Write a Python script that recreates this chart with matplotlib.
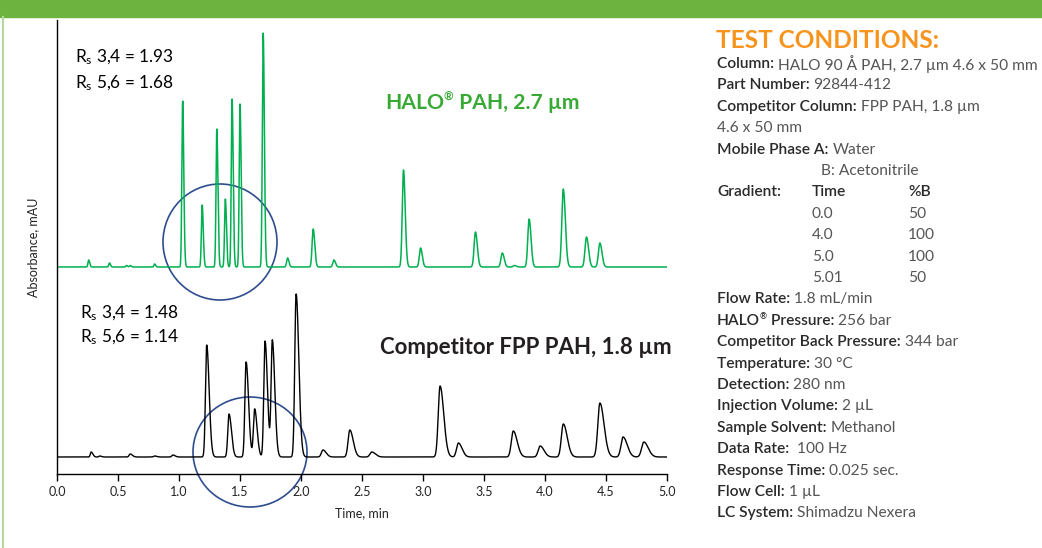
import numpy as np
import matplotlib
matplotlib.use("Agg")
import matplotlib.pyplot as plt
from matplotlib.patches import Ellipse, Rectangle

plt.rcParams['font.family'] = ['Lato', 'DejaVu Sans']
plt.rcParams['mathtext.fontset'] = 'custom'
plt.rcParams['mathtext.rm'] = 'Lato'
plt.rcParams['mathtext.it'] = 'Lato'

# ---------------- data (peak tables) ----------------
halo_times   = [0.26, 0.43, 0.57, 0.60, 0.80, 1.03, 1.19, 1.31, 1.38, 1.435, 1.50, 1.69, 1.89, 2.10, 2.27,
                2.84, 2.98, 3.43, 3.65, 3.75, 3.87, 4.15, 4.34, 4.45]
halo_heights = [7, 4, 1.5, 1.5, 3, 166, 62, 138, 68, 168, 163, 234, 9, 38, 7,
                97, 19, 35, 14, 1.5, 48, 78, 30, 24]
halo_sigmas  = [0.006, 0.006, 0.006, 0.006, 0.006, 0.0065, 0.0065, 0.0065, 0.0065, 0.0065, 0.0065, 0.007, 0.008, 0.009, 0.009,
                0.010, 0.010, 0.011, 0.011, 0.011, 0.011, 0.012, 0.012, 0.012]

comp_times   = [0.28, 0.35, 0.60, 0.80, 0.95, 1.227, 1.41, 1.55, 1.62, 1.705, 1.765, 1.96, 2.18, 2.40, 2.58,
                3.14, 3.29, 3.74, 3.96, 4.15, 4.45, 4.64, 4.81]
comp_heights = [5, 1, 3, 1, 2, 112, 43, 95, 48, 116, 116, 163, 7, 27, 5,
                71, 14, 26, 11, 33, 54, 20, 15]
comp_sigmas  = [0.007, 0.007, 0.009, 0.009, 0.009, 0.010, 0.010, 0.010, 0.010, 0.010, 0.010, 0.011, 0.013, 0.014, 0.015,
                0.015, 0.015, 0.016, 0.016, 0.016, 0.017, 0.017, 0.018]

x_ticks = [0.0, 0.5, 1.0, 1.5, 2.0, 2.5, 3.0, 3.5, 4.0, 4.5, 5.0]

cond_lines = [
    ("Column: ", "HALO 90 Å PAH, 2.7 µm 4.6 x 50 mm"),
    ("Part Number: ", "92844-412"),
    ("Competitor Column: ", "FPP PAH, 1.8 µm"),
    ("", "4.6 x 50 mm"),
    ("Mobile Phase A: ", "Water"),
]
gradient_time = ["0.0", "4.0", "5.0", "5.01"]
gradient_B    = ["50", "100", "100", "50"]
cond_lines2 = [
    ("Flow Rate: ", "1.8 mL/min"),
    ("HALO\u00ae Pressure: ", "256 bar"),
    ("Competitor Back Pressure: ", "344 bar"),
    ("Temperature: ", "30 °C"),
    ("Detection: ", "280 nm"),
    ("Injection Volume: ", "2 µL"),
    ("Sample Solvent: ", "Methanol"),
    ("Data Rate: ", " 100 Hz"),
    ("Response Time: ", "0.025 sec."),
    ("Flow Cell: ", "1 µL"),
    ("LC System: ", "Shimadzu Nexera"),
]

# ---------------- figure ----------------
W, H = 1042, 548
fig = plt.figure(figsize=(W / 100, H / 100), dpi=100)
renderer = fig.canvas.get_renderer()

def fx(px):
    return px / W

def fy(py):
    return 1 - py / H

# top green bar and left border
fig.patches.append(Rectangle((0, fy(17)), 1, 17 / H, transform=fig.transFigure,
                             color='#6db33f', zorder=0))
fig.add_artist(plt.Line2D([fx(3), fx(3)], [0, fy(17)], transform=fig.transFigure,
                          color='#b5d99c', lw=1.5))

ax_left, ax_right, ax_top, ax_bot = 57, 667, 20, 474
ax = fig.add_axes([fx(ax_left), fy(ax_bot), (ax_right - ax_left) / W, (ax_bot - ax_top) / H])
ax.set_xlim(0, 5.0)
ax.set_ylim(0, ax_bot - ax_top)


def trace(times, heights, sigmas, t, tail):
    y = np.zeros_like(t)
    for t0, h, s in zip(times, heights, sigmas):
        d = t - t0
        sig = np.where(d < 0, s, s * tail)
        y += h * np.exp(-0.5 * (d / sig) ** 2)
    return y

t = np.linspace(0, 5.0, 6000)
green_off = ax_bot - 267
black_off = ax_bot - 457
yg = trace(halo_times, halo_heights, halo_sigmas, t, 1.4) + green_off
yb = trace(comp_times, comp_heights, comp_sigmas, t, 2.0) + black_off
ax.plot(t, yg, color='#00b050', lw=1.1)
ax.plot(t, yb, color='black', lw=1.0)

# circles
ppm = (ax_right - ax_left) / 5.0
ax.add_patch(Ellipse(((220 - ax_left) / ppm, ax_bot - 242), 114 / ppm, 116,
                     fill=False, ec='#2e4d8e', lw=1.2, clip_on=False))
ax.add_patch(Ellipse(((250 - ax_left) / ppm, ax_bot - 452), 114 / ppm, 110,
                     fill=False, ec='#2e4d8e', lw=1.2, clip_on=False))

for s in ['top', 'right']:
    ax.spines[s].set_visible(False)
ax.spines['left'].set_linewidth(1.0)
ax.spines['bottom'].set_linewidth(1.0)
ax.set_yticks([])
ax.set_xticks(x_ticks)
ax.set_xticklabels([f"{v:.1f}" for v in x_ticks], fontsize=9, color='#222222')
ax.tick_params(axis='x', direction='out', length=5, width=1.0, pad=4)
ax.set_xlabel("Time, min", fontsize=9, color='#222222', labelpad=6)
fig.text(fx(33), fy(247), "Absorbance, mAU", rotation=90, ha='center', va='center',
         fontsize=9, color='#222222')

# annotations
for (px, py, s) in [(75, 57, "R$_{\\mathrm{s}}$ 3,4 = 1.93"), (75, 83, "R$_{\\mathrm{s}}$ 5,6 = 1.68"),
                    (80, 313, "R$_{\\mathrm{s}}$ 3,4 = 1.48"), (80, 337, "R$_{\\mathrm{s}}$ 5,6 = 1.14")]:
    fig.text(fx(px), fy(py), s, fontsize=12.4, va='center', color='black')


def reg_text(px, py, before, after, size, **kw):
    """Draw 'before' + small raised ® + 'after'; return end x in pixels."""
    t1 = fig.text(fx(px), fy(py), before, fontsize=size, va='center', **kw)
    x1 = t1.get_window_extent(renderer=renderer).x1
    t2 = fig.text(x1 / W, fy(py - size * 0.35), "\u00ae", fontsize=size * 0.55, va='center', **kw)
    x2 = t2.get_window_extent(renderer=renderer).x1
    t3 = fig.text(x2 / W, fy(py), after, fontsize=size, va='center', **kw)
    return t3.get_window_extent(renderer=renderer).x1

reg_text(385, 103, "HALO", " PAH, 2.7 µm", 15.2, fontweight='bold', color='#39a935')
fig.text(fx(380), fy(347), "Competitor FPP PAH, 1.8 µm", fontsize=16, fontweight='bold',
         color='#231f20', va='center')

# test conditions panel
fig.text(fx(716), fy(41), "TEST CONDITIONS:", fontsize=17.6, fontweight='bold',
         color='#f7941d', va='center')

FS = 11.2
LAB = dict(fontsize=FS, color='#2a2a2a', fontweight='semibold', va='center')
VAL = dict(fontsize=FS, color='#555555', fontweight='normal', va='center')

def line(px, py, label, value):
    x = fx(px)
    if label:
        if "\u00ae" in label:
            b, a = label.split("\u00ae")
            x = reg_text(px, py, b, a, FS, color='#2a2a2a', fontweight='semibold') / W
        else:
            tl = fig.text(x, fy(py), label, **LAB)
            x = tl.get_window_extent(renderer=renderer).x1 / W
    fig.text(x, fy(py), value, **VAL)

x0 = 717
y = 64
step = 21.4
for lab, val in cond_lines:
    line(x0, y, lab, val)
    y += step
line(821, y, "", "B: Acetonitrile"); y += step
fig.text(fx(x0), fy(y), "Gradient:", **LAB)
fig.text(fx(812), fy(y), "Time", **LAB)
fig.text(fx(908), fy(y), "%B", **LAB)
y += step
for gt, gb in zip(gradient_time, gradient_B):
    fig.text(fx(812), fy(y), gt, **VAL)
    fig.text(fx(908), fy(y), gb, **VAL)
    y += step
for lab, val in cond_lines2:
    line(x0, y, lab, val)
    y += step

fig.savefig("out.png", dpi=100)
